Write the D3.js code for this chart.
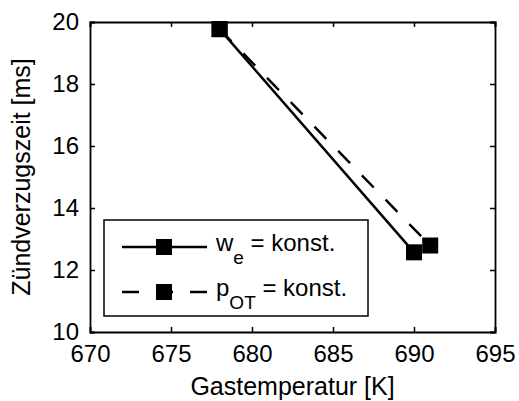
<!DOCTYPE html>
<html>
<head>
<meta charset="utf-8">
<script src="https://cdn.jsdelivr.net/npm/d3@7"></script>
<style>
  html, body { margin: 0; padding: 0; background: #fff; }
  svg { display: block; font-family: "Liberation Sans", Arial, Helvetica, sans-serif; }
</style>
</head>
<body>
<svg id="chart" width="519" height="401"></svg>
<script>
// Ignition delay vs. gas temperature for two operating strategies
const weTemp = [678, 690];          // w_e = konst.
const weDelay = [19.77, 12.57];
const potTemp = [678, 691];         // p_OT = konst.
const potDelay = [19.77, 12.79];

const xTicks = [670, 675, 680, 685, 690, 695];
const yTicks = [10, 12, 14, 16, 18, 20];

const W = 519, H = 401;
const m = { left: 90, right: 24, top: 22, bottom: 69 };
const pw = W - m.left - m.right, ph = H - m.top - m.bottom;

const svg = d3.select("#chart");
const g = svg.append("g").attr("transform", `translate(${m.left},${m.top})`);

const x = d3.scaleLinear().domain([670, 695]).range([0, pw]);
const y = d3.scaleLinear().domain([10, 20]).range([ph, 0]);

const fs = 24;
const tickLen = 5;

// axes (inward ticks on all four sides)
const xAxisB = d3.axisBottom(x).tickValues(xTicks).tickSize(-tickLen).tickPadding(tickLen + 8).tickFormat(d3.format("d"));
const xAxisT = d3.axisTop(x).tickValues(xTicks).tickSize(-tickLen).tickFormat("");
const yAxisL = d3.axisLeft(y).tickValues(yTicks).tickSize(-tickLen).tickPadding(tickLen + 6).tickFormat(d3.format("d"));
const yAxisR = d3.axisRight(y).tickValues(yTicks).tickSize(-tickLen).tickFormat("");

function style(sel) {
  sel.select(".domain").attr("stroke", "#000").attr("stroke-width", 1.8);
  sel.selectAll(".tick line").attr("stroke", "#000").attr("stroke-width", 1.5);
  sel.selectAll(".tick text").attr("fill", "#000").attr("font-size", fs).attr("font-family", "Liberation Sans, Arial, sans-serif");
}

g.append("g").attr("transform", `translate(0,${ph})`).call(xAxisB).call(style)
  .selectAll(".tick text").attr("dy", "0.71em");
g.append("g").call(xAxisT).call(style);
g.append("g").call(yAxisL).call(style);
g.append("g").attr("transform", `translate(${pw},0)`).call(yAxisR).call(style);

// series lines
const line = d3.line().x(d => x(d[0])).y(d => y(d[1]));
const potPts = potTemp.map((t, i) => [t, potDelay[i]]);
const wePts = weTemp.map((t, i) => [t, weDelay[i]]);

g.append("path").datum(potPts).attr("d", line)
  .attr("fill", "none").attr("stroke", "#000").attr("stroke-width", 2.5)
  .attr("stroke-dasharray", "17,17");
g.append("path").datum(wePts).attr("d", line)
  .attr("fill", "none").attr("stroke", "#000").attr("stroke-width", 2.5);

const ms = 16;
g.selectAll(".mk").data(wePts.concat(potPts)).join("rect")
  .attr("x", d => x(d[0]) - ms / 2).attr("y", d => y(d[1]) - ms / 2)
  .attr("width", ms).attr("height", ms).attr("fill", "#000");

// axis titles
svg.append("text")
  .attr("x", m.left + pw / 2).attr("y", 395)
  .attr("text-anchor", "middle").attr("font-size", 25)
  .text("Gastemperatur [K]");
svg.append("text")
  .attr("transform", `translate(30,${m.top + ph / 2}) rotate(-90)`)
  .attr("text-anchor", "middle").attr("font-size", 25)
  .text("Zündverzugszeit [ms]");

// legend
const lg = svg.append("g");
lg.append("rect").attr("x", 104).attr("y", 220).attr("width", 264).attr("height", 96)
  .attr("fill", "#fff").attr("stroke", "#000").attr("stroke-width", 1.5);

const entries = [
  { main: "w", sub: "e", dash: null, yy: 247 },
  { main: "p", sub: "OT", dash: "17,17", yy: 292 }
];
entries.forEach(e => {
  lg.append("line").attr("x1", 122).attr("x2", 207).attr("y1", e.yy).attr("y2", e.yy)
    .attr("stroke", "#000").attr("stroke-width", 2.5)
    .attr("stroke-dasharray", e.dash);
  lg.append("rect").attr("x", 164 - ms / 2).attr("y", e.yy - ms / 2)
    .attr("width", ms).attr("height", ms).attr("fill", "#000");
  const t = lg.append("text").attr("x", 216).attr("y", e.yy + 4).attr("font-size", fs);
  t.append("tspan").text(e.main);
  t.append("tspan").attr("font-size", 19).attr("dy", 13).text(e.sub);
  t.append("tspan").attr("dy", -13).text(" = konst.");
});
</script>
</body>
</html>
